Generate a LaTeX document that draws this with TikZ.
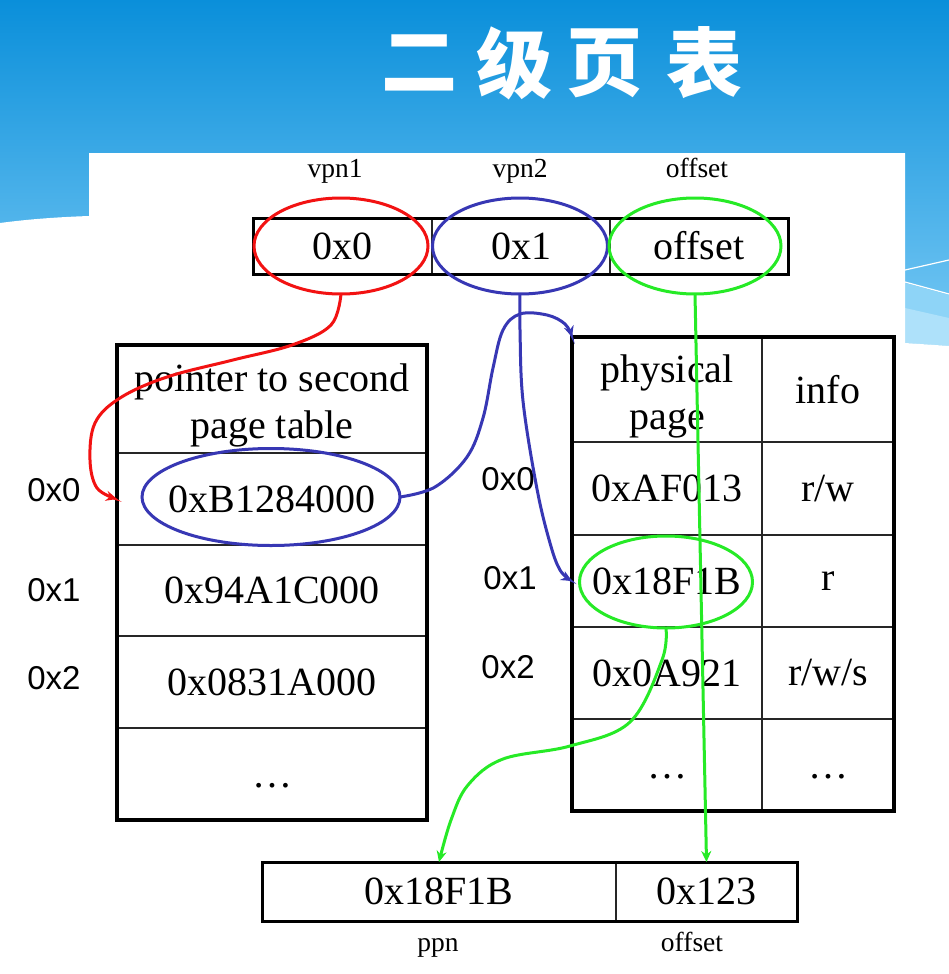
\documentclass[tikz,border=0pt]{standalone}
\usepackage{fontspec}
\setmainfont{Liberation Serif}
\newfontfamily\sansfnt{Liberation Sans}
\newfontfamily\cjkfnt{Noto Sans CJK SC}
\usetikzlibrary{shapes.geometric,arrows.meta}
\definecolor{myred}{HTML}{F21212}
\definecolor{myblue}{HTML}{3737B4}
\definecolor{mygreen}{HTML}{26EA26}
\definecolor{skytop}{HTML}{0A8FDA}
\definecolor{skybot}{HTML}{7ACAF5}
\definecolor{skymid}{HTML}{8ED4F7}
\definecolor{skylight}{HTML}{AEE1FA}
\begin{document}
\begin{tikzpicture}[x=1pt,y=-1pt,
  cell/.style={draw=black!85, line width=1.8pt, inner sep=0pt, outer sep=0pt,
    font=\fontsize{40}{46}\selectfont, align=center},
  celltext/.style={inner sep=0pt, font=\fontsize{40}{47}\selectfont, align=center},
  frame/.style={draw=black, line width=3.5pt},
  ring/.style={ellipse, draw, line width=3pt, inner sep=0pt, outer sep=0pt},
  conn/.style={line width=3pt, -{Stealth[length=11pt,width=10pt]}},
  side/.style={font=\sansfnt\fontsize{33}{33}\selectfont},
  lbl/.style={font=\fontsize{27.5}{27.5}\selectfont, anchor=base},
  ttl/.style={font=\cjkfnt\bfseries\fontsize{76}{76}\selectfont, text=white}]

\useasboundingbox (0,0) rectangle (949,974);

% background
\shade[top color=skytop, bottom color=skybot] (0,0) rectangle (949,350);
\fill[skymid] (905,283) -- (949,295) -- (949,346) -- (905,343) -- cycle;
\fill[skylight] (905,308) -- (949,318) -- (949,346) -- (905,343) -- cycle;
\draw[white, line width=1.2pt] (905,270) -- (949,260);
\draw[white, line width=1.2pt] (905,282) -- (949,294);
\fill[white] (0,223) .. controls (30,219) and (60,217) .. (89,216) -- (89,153)
  -- (905,153) -- (905,343) .. controls (920,344) and (935,345) .. (949,346)
  -- (949,974) -- (0,974) -- cycle;

% title
\node[ttl] (t1) at (419,63) {二};
\node[ttl] (t2) at (514,63) {级};
\node[ttl] (t3) at (604,63) {页};
\node[ttl] (t4) at (704,63) {表};

% virtual address
\node[lbl] (l1) at (335,177) {vpn1};
\node[lbl] (l2) at (520,177) {vpn2};
\node[lbl] (l3) at (697,177) {offset};
\node[cell, minimum width=179pt, minimum height=56pt] (v1) at (342.5,246) {0x0};
\node[cell, minimum width=178pt, minimum height=56pt] (v2) at (521,246) {0x1};
\node[cell, minimum width=178pt, minimum height=56pt] (v3) at (699,246) {offset};
\draw[frame, line width=3pt] (v1.north west) rectangle (v3.south east);

% first-level table
\node[cell, minimum width=310pt, minimum height=108pt] (a0) at (272,399) {};
\node[celltext] (a0t) at (272,405) {pointer to second\\page table};
\node[cell, minimum width=310pt, minimum height=92pt] (a1) at (272,499) {0xB1284000};
\node[cell, minimum width=310pt, minimum height=91pt] (a2) at (272,590.5) {0x94A1C000};
\node[cell, minimum width=310pt, minimum height=92pt] (a3) at (272,682) {0x0831A000};
\node[cell, minimum width=310pt, minimum height=92pt] (a4) at (272,774) {\vphantom{0}\dots};
\draw[frame] (a0.north west) rectangle (a4.south east);
\node[side] (s0) at (54,490) {0x0};
\node[side] (s1) at (54,590) {0x1};
\node[side] (s2) at (54,678) {0x2};

% second-level table
\node[cell, minimum width=190pt, minimum height=105pt] (p0) at (667,389.5) {};
\node[celltext] (p0t) at (667,396) {physical\\page};
\node[cell, minimum width=190pt, minimum height=93pt] (p1) at (667,488.5) {0xAF013};
\node[cell, minimum width=190pt, minimum height=92pt] (p2) at (667,581) {0x18F1B};
\node[cell, minimum width=190pt, minimum height=92pt] (p3) at (667,673) {0x0A921};
\node[cell, minimum width=190pt, minimum height=92pt] (p4) at (667,765) {\vphantom{0}\dots};
\node[cell, minimum width=132pt, minimum height=105pt] (q0) at (828,389.5) {info};
\node[cell, minimum width=132pt, minimum height=93pt] (q1) at (828,488.5) {r/w};
\node[cell, minimum width=132pt, minimum height=92pt] (q2) at (828,581) {r};
\node[cell, minimum width=132pt, minimum height=92pt] (q3) at (828,673) {r/w/s};
\node[cell, minimum width=132pt, minimum height=92pt] (q4) at (828,765) {\vphantom{0}\dots};
\draw[frame] (p0.north west) rectangle (q4.south east);
\node[side] (u0) at (508,479) {0x0};
\node[side] (u1) at (510,578) {0x1};
\node[side] (u2) at (508,667) {0x2};

% physical address
\node[cell, minimum width=354pt, minimum height=59pt] (b1) at (439,891.5) {0x18F1B};
\node[cell, minimum width=181pt, minimum height=59pt] (b2) at (706.5,891.5) {0x123};
\draw[frame, line width=3pt] (b1.north west) rectangle (b2.south east);
\node[lbl] (m1) at (438,951) {ppn};
\node[lbl] (m2) at (692,951) {offset};

% highlight ellipses
\node[ring, draw=myred, minimum width=174pt, minimum height=96pt] (e1) at (341,246) {};
\node[ring, draw=myblue, minimum width=175pt, minimum height=96pt] (e2) at (520,246) {};
\node[ring, draw=mygreen, minimum width=172pt, minimum height=96pt] (e3) at (695,246) {};
\node[ring, draw=myblue, minimum width=258pt, minimum height=97pt] (e4) at (271,497) {};
\node[ring, draw=mygreen, minimum width=173pt, minimum height=92pt] (e5) at (666,582) {};

% connectors
\draw[conn, myred] plot[smooth, tension=0.6] coordinates {(e1.south) (331,325) (292,345)
  (233,360) (167,377) (120,398) (95,423) (90,460) (97,488) (a1.west)};
\draw[conn, myblue] plot[smooth, tension=0.6] coordinates {(e4.east) (435,487) (467,457)
  (483,418) (493,368) (503,330) (520,314) (547,315) (565,324) (p0.north west)};
\draw[conn, myblue] plot[smooth, tension=0.6] coordinates {(e2.south) (520,330) (523,401)
  (537,489) (550,543) (560,570) (p2.west)};
\draw[conn, mygreen] (e3.south) -- (b2.north);
\draw[conn, mygreen] plot[smooth, tension=0.6] coordinates {(e5.south) (662,660) (630,722)
  (570,746) (503,759) (468,785) (451,820) (b1.north)};
\end{tikzpicture}
\end{document}
